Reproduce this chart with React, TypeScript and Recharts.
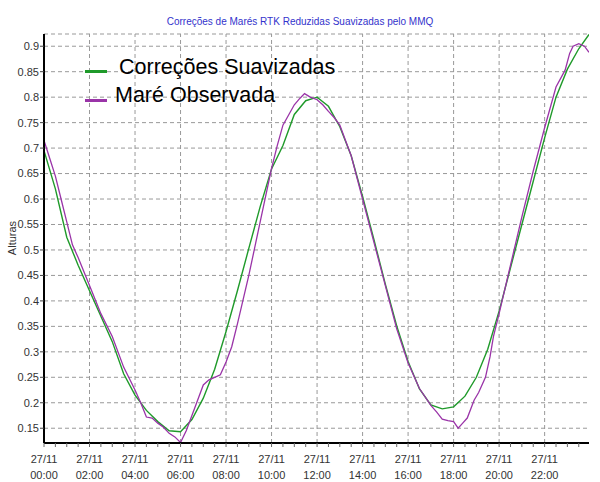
import {
  LineChart,
  Line,
  XAxis,
  YAxis,
  CartesianGrid,
  ReferenceLine,
} from "recharts";

// smoothed corrections (green)
const suavHours = [
  0, 0.5, 1, 1.5, 2, 2.5, 3, 3.5, 4, 4.5, 5, 5.5, 6, 6.5, 7, 7.5, 8, 8.5, 9,
  9.5, 10, 10.5, 11, 11.5, 12, 12.5, 13, 13.5, 14, 14.5, 15, 15.5, 16, 16.5,
  17, 17.5, 18, 18.5, 19, 19.5, 20, 20.5, 21, 21.5, 22, 22.5, 23, 23.5, 23.95,
];
const suavValues = [
  0.695, 0.62, 0.525, 0.47, 0.42, 0.37, 0.32, 0.257, 0.215, 0.185, 0.163,
  0.145, 0.143, 0.167, 0.209, 0.266, 0.34, 0.42, 0.503, 0.585, 0.659, 0.705,
  0.766, 0.793, 0.8, 0.782, 0.742, 0.685, 0.605, 0.52, 0.433, 0.351, 0.281,
  0.227, 0.196, 0.188, 0.192, 0.213, 0.25, 0.305, 0.38, 0.465, 0.55, 0.635,
  0.72, 0.8, 0.855, 0.895, 0.923,
];

// observed tide (purple)
const obsHours = [
  0, 0.25, 0.5, 0.75, 1, 1.25, 1.5, 2, 2.5, 3, 3.5, 4, 4.25, 4.5, 4.75, 5,
  5.25, 5.5, 5.75, 6, 6.25, 6.5, 6.75, 7, 7.25, 7.5, 7.75, 8, 8.25, 8.5, 9,
  9.5, 10, 10.25, 10.5, 10.75, 11, 11.25, 11.45, 11.7, 12, 12.25, 12.5, 12.75,
  13, 13.25, 13.5, 14, 14.5, 15, 15.5, 16, 16.5, 17, 17.25, 17.5, 17.75, 18,
  18.2, 18.4, 18.6, 18.9, 19.1, 19.4, 19.6, 19.75, 20, 20.5, 21, 21.5, 22,
  22.5, 22.9, 23.1, 23.25, 23.5, 23.75, 23.95,
];
const obsValues = [
  0.715, 0.68, 0.645, 0.6, 0.555, 0.51, 0.485, 0.43, 0.375, 0.33, 0.27, 0.225,
  0.2, 0.172, 0.17, 0.16, 0.152, 0.14, 0.133, 0.122, 0.145, 0.175, 0.205,
  0.235, 0.245, 0.25, 0.255, 0.28, 0.31, 0.355, 0.45, 0.555, 0.66, 0.705,
  0.745, 0.765, 0.785, 0.798, 0.807, 0.8, 0.795, 0.785, 0.772, 0.76, 0.745,
  0.715, 0.685, 0.6, 0.515, 0.43, 0.345, 0.278, 0.228, 0.195, 0.182, 0.168,
  0.165, 0.163, 0.15, 0.16, 0.17, 0.205, 0.22, 0.25, 0.29, 0.33, 0.375, 0.47,
  0.565, 0.655, 0.74, 0.82, 0.853, 0.886, 0.9, 0.905, 0.9, 0.888,
];

const majorHours = [0, 2, 4, 6, 8, 10, 12, 14, 16, 18, 20, 22];
const dayLabel = "27/11";
const yTicks = [
  0.15, 0.2, 0.25, 0.3, 0.35, 0.4, 0.45, 0.5, 0.55, 0.6, 0.65, 0.7, 0.75, 0.8,
  0.85, 0.9,
];
const minorTicks = Array.from({ length: 48 }, (_, i) => i / 2);

const suavData = suavHours.map((h, i) => ({ h, v: suavValues[i] }));
const obsData = obsHours.map((h, i) => ({ h, v: obsValues[i] }));

const FONT = '"Liberation Sans", Arial, sans-serif';
const GREEN = "#1f9a2a";
const PURPLE = "#9a34a8";

function HourTick(props: any) {
  const { x, y, payload } = props;
  const v = payload.value;
  if (v % 2 !== 0) return <g />;
  const hh = String(v).padStart(2, "0");
  return (
    <g>
      <text x={x} y={y} dy={14} textAnchor="middle" fontSize={11} fill="#333" fontFamily={FONT}>
        {dayLabel}
      </text>
      <text x={x} y={y} dy={30} textAnchor="middle" fontSize={11} fill="#333" fontFamily={FONT}>
        {hh}:00
      </text>
    </g>
  );
}

export default function App() {
  return (
    <div
      style={{
        position: "absolute",
        left: 0,
        top: 0,
        width: 600,
        height: 482,
        background: "#fff",
        fontFamily: FONT,
      }}
    >
      <LineChart width={600} height={482} margin={{ top: 34, right: 11, bottom: 0, left: 0 }}>
        <CartesianGrid vertical={false} stroke="#999" strokeDasharray="4 3" />
        {majorHours.slice(1).map((h) => (
          <ReferenceLine key={h} x={h} stroke="#999" strokeDasharray="4 3" />
        ))}
        <XAxis
          dataKey="h"
          type="number"
          domain={[0, 23.95]}
          allowDataOverflow
          ticks={minorTicks}
          interval={0}
          height={39}
          tickSize={4}
          tickMargin={2}
          tickLine={{ stroke: "#666" }}
          axisLine={{ stroke: "#000", strokeWidth: 2 }}
          tick={<HourTick />}
        />
        <XAxis
          xAxisId="top"
          orientation="top"
          type="number"
          domain={[0, 23.95]}
          height={0}
          tick={false}
          tickLine={false}
          axisLine={{ stroke: "#666", strokeWidth: 1.5 }}
        />
        <YAxis
          type="number"
          domain={[0.121, 0.924]}
          allowDataOverflow
          ticks={yTicks}
          interval={0}
          width={44}
          tickSize={4}
          tickMargin={1}
          tickLine={{ stroke: "#444" }}
          axisLine={{ stroke: "#000", strokeWidth: 2 }}
          tick={{ fontSize: 11, fill: "#333", fontFamily: FONT }}
        />
        <YAxis
          yAxisId="right"
          orientation="right"
          type="number"
          domain={[0.121, 0.924]}
          width={0}
          tick={false}
          tickLine={false}
          axisLine={{ stroke: "#666", strokeWidth: 1.5 }}
        />
        <Line
          data={suavData}
          dataKey="v"
          type="linear"
          stroke={GREEN}
          strokeWidth={1.4}
          dot={false}
          isAnimationActive={false}
        />
        <Line
          data={obsData}
          dataKey="v"
          type="linear"
          stroke={PURPLE}
          strokeWidth={1.3}
          dot={false}
          isAnimationActive={false}
        />
      </LineChart>

      <div
        style={{
          position: "absolute",
          top: 16.5,
          left: 0,
          width: 600,
          textAlign: "center",
          fontSize: 10,
          lineHeight: 1,
          color: "#3333cc",
        }}
      >
        Correções de Marés RTK Reduzidas Suavizadas pelo MMQ
      </div>

      <div
        style={{
          position: "absolute",
          left: -18,
          top: 232,
          width: 60,
          textAlign: "center",
          fontSize: 11,
          lineHeight: "12px",
          color: "#333",
          transform: "rotate(-90deg)",
        }}
      >
        Alturas
      </div>

      <div style={{ position: "absolute", left: 85, top: 70, width: 22, height: 3, background: GREEN }} />
      <div style={{ position: "absolute", left: 119, top: 56.8, fontSize: 21.5, lineHeight: 1, color: "#000", whiteSpace: "nowrap" }}>
        Correções Suavizadas
      </div>
      <div style={{ position: "absolute", left: 85, top: 98.5, width: 22, height: 3, background: PURPLE }} />
      <div style={{ position: "absolute", left: 115, top: 84.8, fontSize: 21.5, lineHeight: 1, color: "#000", whiteSpace: "nowrap" }}>
        Maré Observada
      </div>
    </div>
  );
}
